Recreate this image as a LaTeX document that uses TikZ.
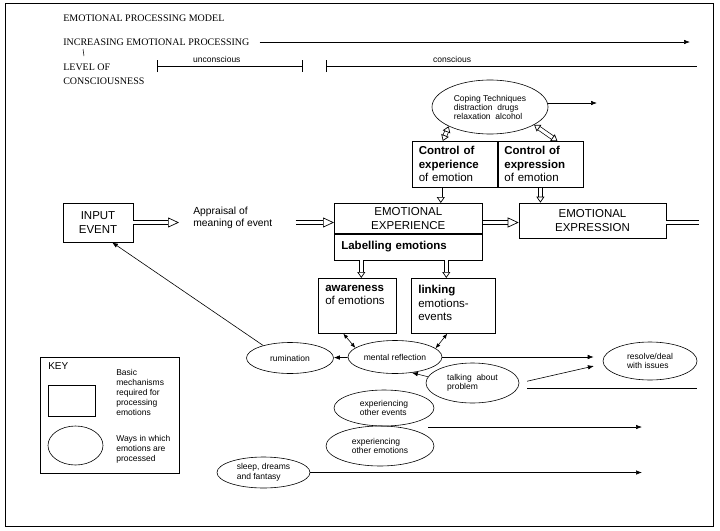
\documentclass[tikz,border=0pt]{standalone}
\usepackage{fontspec}
\setmainfont{Liberation Serif}
\setsansfont{Liberation Sans}
\usetikzlibrary{arrows.meta,positioning,shapes.geometric,calc}
\newcommand{\fsz}[2]{\fontsize{#1}{#2}\selectfont}

\begin{document}
\begin{tikzpicture}[x=1pt, y=-1pt, line width=0.6pt,
  every node/.style={font=\sffamily, inner sep=0pt},
  head/.style={font=\rmfamily\fsz{10}{13.5}, anchor=west, align=left},
  mech/.style={draw},
  way/.style={draw, ellipse, align=left, font=\sffamily\fsz{8.5}{9.5}},
  big/.style={font=\sffamily\fsz{11.5}{13.5}},
  small/.style={font=\sffamily\fsz{8.5}{9.8}},
  hol/.tip={Triangle[open, length=11pt, width=10pt]},
  hols/.tip={Triangle[open, length=6pt, width=8pt]},
  hollow/.style={double, double distance=3.2pt, line width=0.7pt},
  ptr/.style={-{Latex[length=6pt, width=4.5pt]}},
  twoway/.style={{Latex[length=5pt, width=4pt]}-{Latex[length=5pt, width=4pt]}}]
  \useasboundingbox (0,0) rectangle (720,530);
  \draw[line width=0.9pt] (5,3) rectangle (713,526);

  % headings and consciousness scale
  \node[head] (title) at (63,18) {EMOTIONAL PROCESSING MODEL};
  \node[head] (incr) at (63,42) {INCREASING EMOTIONAL PROCESSING};
  \coordinate (incrend) at (690,42);
  \draw[ptr, shorten <=10pt] (incr.east) -- (incrend);
  \node[head] (level) at (63,74) {LEVEL OF\\CONSCIOUSNESS};
  \draw[line width=0.5pt] (83,49) -- (84,56);
  \coordinate (u1) at (157,66);
  \coordinate (u2) at (303,66);
  \coordinate (c1) at (326,66);
  \coordinate (c2) at (697,66);
  \draw[{Bar[width=12pt]}-{Bar[width=12pt]}] (u1) -- node[small, above=3pt, pos=0.41] (ulab) {unconscious} (u2);
  \draw[{Bar[width=12pt]}-] (c1) -- node[small, above=3pt, pos=0.34] (clab) {conscious} (c2);

  % coping and control
  \node[way, minimum width=116pt, minimum height=54pt, font=\sffamily\fsz{8.5}{9}] (cope) at (490,107) {Coping Techniques\\distraction\ \ drugs\\relaxation\ \ alcohol};
  \coordinate (copeout) at (597,103);
  \draw[ptr] (cope.east |- copeout) -- (copeout);
  \node[mech, anchor=north west, minimum width=85pt, minimum height=46pt, big, align=left, text width=72pt, inner xsep=6pt] (ctlexp) at (412,141) {\textbf{Control of}\\\textbf{experience}\\of emotion};
  \node[mech, anchor=north west, minimum width=85pt, minimum height=46pt, big, align=left, text width=72pt, inner xsep=6pt] (ctlexpr) at (ctlexp.north east) {\textbf{Control of}\\\textbf{expression}\\of emotion};
  \draw[hollow, hols-hols] (cope.205) -- ([xshift=-12pt]ctlexp.north);
  \draw[hollow, hols-hols] (cope.-22) -- ([xshift=17pt]ctlexpr.north);

  % main chain
  \node[mech, minimum width=70pt, minimum height=39pt, big, align=center] (input) at (98,222.5) {INPUT\\EVENT};
  \node[anchor=west, align=left, font=\sffamily\fsz{10.3}{12}] (appr) at (193,218) {Appraisal of\\meaning of event};
  \node[mech, anchor=north west, minimum width=148pt, minimum height=30pt, big, align=center] (emoexp) at (334,203) {EMOTIONAL\\EXPERIENCE};
  \node[mech, anchor=north west, minimum width=148pt, minimum height=26pt, font=\sffamily\bfseries\fsz{11.5}{13.5}, text width=134pt, align=left, inner xsep=7pt] (labl) at (emoexp.south west) {Labelling emotions};
  \node[mech, minimum width=147pt, minimum height=35pt, big, align=center] (emoexpr) at (592.5,220.5) {EMOTIONAL\\EXPRESSION};
  \coordinate (exprout) at (699,222.5);
  \draw[hollow, -hol, shorten >=14pt] (input.east) -- (input.east -| appr.west);
  \draw[hollow, -hol, shorten <=23pt] (appr.east |- input.east) -- (input.east -| emoexp.west);
  \draw[hollow, -hol] (emoexp.east |- input.east) -- (input.east -| emoexpr.west);
  \draw[hollow] (input.east -| emoexpr.east) -- (exprout);
  \draw[hollow, -hols] ([xshift=-14pt]ctlexp.south) -- ([xshift=-14pt]ctlexp.south |- emoexp.north);
  \draw[hollow, -hols] (ctlexpr.south) -- (ctlexpr.south |- emoexpr.north);

  % awareness and linking
  \node[mech, anchor=north west, big, inner xsep=7pt, inner ysep=7pt] (aware) at (318,278) {\parbox[c][41pt][t]{64pt}{\textbf{awareness}\\of emotions}};
  \node[mech, anchor=north west, big, inner xsep=7pt, inner ysep=7pt] (link) at (411,278) {\parbox[c][41pt][t]{70pt}{\textbf{linking}\\emotions-\\events}};
  \draw[hollow, -hols] ([xshift=4pt]aware.north |- labl.south) -- ([xshift=4pt]aware.north);
  \draw[hollow, -hols] ([xshift=-7pt]link.north |- labl.south) -- ([xshift=-7pt]link.north);

  % ways of processing
  \node[way, minimum width=94pt, minimum height=33pt] (mref) at (395,357) {mental reflection};
  \node[way, minimum width=87pt, minimum height=31pt] (rumi) at (290,358) {rumination};
  \node[way, minimum width=94pt, minimum height=38pt] (resol) at (650,361) {resolve/deal\\with issues};
  \node[way, minimum width=93pt, minimum height=40pt] (talk) at (472.5,383) {talking\ \ about\\problem};
  \node[way, minimum width=100pt, minimum height=36pt] (evts) at (384,408) {experiencing\\other events};
  \node[way, minimum width=108pt, minimum height=40pt] (emos) at (380,446) {experiencing\\other emotions};
  \node[way, minimum width=93pt, minimum height=31pt] (sleep) at (263.5,472.5) {sleep, dreams\\and fantasy};
  \coordinate (talkout) at (697,388);
  \coordinate (evtsout) at (642,427);
  \coordinate (sleepout) at (642,472.5);
  \draw[ptr] (mref) -- (rumi);
  \draw[ptr] (rumi.155) -- ([xshift=14pt]input.south);
  \draw[twoway] ([xshift=-14pt]aware.south) -- (mref.167);
  \draw[twoway] ([xshift=-6pt]link.south) -- (mref.12);
  \draw[ptr, shorten >=9pt] (mref.east) -- (mref.east -| resol.west);
  \draw[ptr] (talk.172) -- (mref.-43);
  \draw[ptr, shorten <=8pt, shorten >=9pt] (talk.east) -- ([yshift=-3pt]resol.west);
  \draw ($(talk.east |- talkout)+(8,0)$) -- (talkout);
  \draw[ptr] ($(evts.east |- evtsout)+(-6,0)$) -- (evtsout);
  \draw[ptr] (sleep.east) -- (sleepout);

  % key
  \node[mech, anchor=north west, minimum width=139pt, minimum height=116pt] (key) at (40,357) {};
  \node[anchor=west, font=\sffamily\fsz{10}{12}] (keyttl) at (48,366) {KEY};
  \node[mech, anchor=north west, minimum width=47pt, minimum height=31pt] (keybox) at (48,385) {};
  \node[way, minimum width=55pt, minimum height=39pt] (keyell) at (75.5,445.5) {};
  \node[small, anchor=west, align=left] (keymech) at (116,392.5) {Basic\\mechanisms\\required for\\processing\\emotions};
  \node[small, anchor=west, align=left] (keyway) at (116,449) {Ways in which\\emotions are\\processed};
\end{tikzpicture}
\end{document}
